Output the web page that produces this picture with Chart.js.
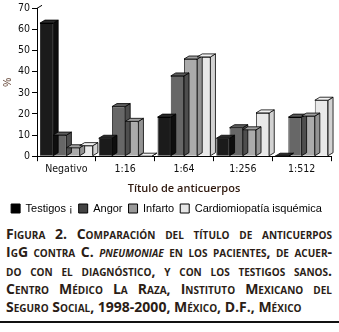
<!DOCTYPE html>
<html>
<head>
<meta charset="utf-8">
<script src="https://cdn.jsdelivr.net/npm/chart.js@4"></script>
<style>
  body { margin: 0; background: #fff; width: 339px; height: 332px; overflow: hidden; position: relative; }
  #wrap { position: absolute; left: 0; top: 0; width: 339px; height: 224px; }
  #caption {
    position: absolute; left: 6px; top: 225px; width: 326px;
    font-family: "Open Sans", "DejaVu Sans", sans-serif; font-weight: bold;
    font-variant: small-caps; font-size: 14px; line-height: 18.3px; color: #2b1d16;
  }
  #caption div { text-align: justify; text-align-last: justify; white-space: nowrap; }
  #caption div.last { text-align-last: left; }
  #rule { position: absolute; left: 0; top: 321px; width: 339px; height: 2px; background: #111; }
</style>
</head>
<body>
<div id="wrap"><canvas id="chart"></canvas></div>
<div id="caption">
  <div>Figura 2. Comparación del título de anticuerpos</div>
  <div>IgG contra C. <i>pneumoniae</i> en los pacientes, de acuer-</div>
  <div>do con el diagnóstico, y con los testigos sanos.</div>
  <div>Centro Médico La Raza, Instituto Mexicano del</div>
  <div class="last">Seguro Social, 1998-2000, México, D.F., México</div>
</div>
<div id="rule"></div>
<script>
const categories = ["Negativo", "1:16", "1:64", "1:256", "1:512"];
const testigos = [63, 8.5, 18.5, 8.5, 0];
const angor = [10, 23.5, 38, 13.5, 18.5];
const infarto = [4, 16.5, 46, 12.5, 19];
const cardiomiopatia = [5, 0, 47, 20.5, 26.5];
const seriesNames = ["Testigos ¡", "Angor", "Infarto", "Cardiomiopatía isquémica"];
const yTicks = [0, 10, 20, 30, 40, 50, 60, 70];

const fills = ["#1b1b1b", "#676767", "#ababab", "#e9e9e9"];
const sides = ["#0e0e0e", "#4e4e4e", "#939393", "#d2d2d2"];
const tops = ["#2a2a2a", "#5c5c5c", "#a0a0a0", "#f2f2f2"];

const narrow = "'DejaVu Sans Condensed', 'Liberation Sans Narrow', 'Liberation Sans', sans-serif";

// caras superior y lateral para el efecto 3D
const bars3d = {
  id: "bars3d",
  afterDatasetsDraw(chart) {
    const ctx = chart.ctx;
    const dx = 5, dy = 3;
    ctx.save();
    ctx.lineWidth = 0.8;
    ctx.strokeStyle = "#000";
    chart.data.datasets.forEach((ds, i) => {
      chart.getDatasetMeta(i).data.forEach((bar) => {
        const left = bar.x - bar.width / 2;
        const right = bar.x + bar.width / 2;
        const top = bar.y;
        const base = bar.base;
        ctx.fillStyle = sides[i];
        ctx.beginPath();
        ctx.moveTo(right, top);
        ctx.lineTo(right + dx, top - dy);
        ctx.lineTo(right + dx, base - dy);
        ctx.lineTo(right, base);
        ctx.closePath();
        ctx.fill();
        ctx.stroke();
        ctx.fillStyle = tops[i];
        ctx.beginPath();
        ctx.moveTo(left, top);
        ctx.lineTo(left + dx, top - dy);
        ctx.lineTo(right + dx, top - dy);
        ctx.lineTo(right, top);
        ctx.closePath();
        ctx.fill();
        ctx.stroke();
      });
    });
    // pared del fondo en lo alto del eje y
    const a = chart.chartArea;
    ctx.lineWidth = 1;
    ctx.beginPath();
    ctx.moveTo(a.left, a.top);
    ctx.lineTo(a.left + dx, a.top - dy);
    ctx.stroke();
    ctx.restore();
  },
};

new Chart(document.getElementById("chart"), {
  type: "bar",
  data: {
    labels: categories,
    datasets: [testigos, angor, infarto, cardiomiopatia].map((d, i) => ({
      label: seriesNames[i],
      data: d,
      backgroundColor: fills[i],
      borderColor: "#000",
      borderWidth: 0.8,
      categoryPercentage: 0.9,
      barPercentage: 1.0,
    })),
  },
  options: {
    responsive: true,
    maintainAspectRatio: false,
    animation: false,
    layout: { padding: { top: 3, right: 8, left: 2, bottom: 0 } },
    plugins: {
      tooltip: { enabled: false },
      legend: {
        position: "bottom",
        labels: {
          color: "#111",
          font: { family: "'Liberation Sans', sans-serif", size: 11 },
          boxWidth: 9,
          boxHeight: 9,
          padding: 6,
          generateLabels(chart) {
            return chart.data.datasets.map((ds, i) => ({
              text: ds.label,
              fillStyle: ["#000", "#444", "#999", "#e6e6e6"][i],
              strokeStyle: "#000",
              lineWidth: 1,
              datasetIndex: i,
            }));
          },
        },
      },
    },
    scales: {
      x: {
        grid: { display: true, drawOnChartArea: false, color: "#000", tickLength: 5, offset: true },
        border: { color: "#000", width: 1 },
        ticks: { color: "#111", font: { family: narrow, size: 10.5 }, padding: 2 },
        title: {
          display: true, text: "Título de anticuerpos", color: "#2e170c",
          font: { family: "'Open Sans', sans-serif", size: 11, weight: "600" }, padding: { top: 4, bottom: 2 },
        },
      },
      y: {
        min: 0, max: 70,
        afterBuildTicks(axis) { axis.ticks = yTicks.map((v) => ({ value: v })); },
        grid: { display: true, drawOnChartArea: false, color: "#000", tickLength: 5 },
        border: { color: "#000", width: 1 },
        ticks: { color: "#111", font: { family: narrow, size: 10.5 }, padding: 2 },
        title: {
          display: true, text: "%", color: "#5a3a2a",
          font: { family: "'Liberation Sans', sans-serif", size: 10 }, padding: { top: 0, bottom: 2 },
        },
      },
    },
  },
  plugins: [bars3d],
});
</script>
</body>
</html>
